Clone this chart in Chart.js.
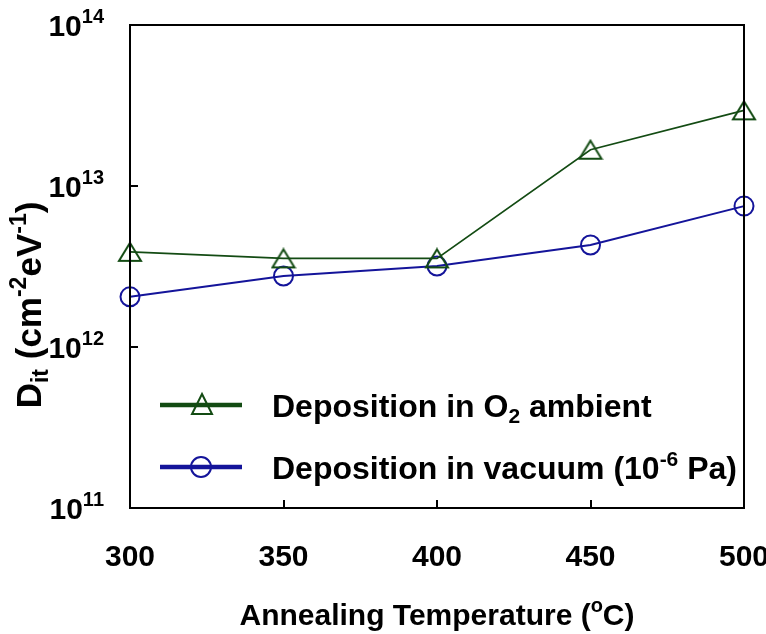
<!DOCTYPE html>
<html>
<head>
<meta charset="utf-8">
<script src="https://cdn.jsdelivr.net/npm/chart.js@4/dist/chart.umd.min.js"></script>
<style>
  body { margin: 0; background: #fff; }
  #wrap { width: 766px; height: 634px; }
</style>
</head>
<body>
<div id="wrap"><canvas id="ditChart"></canvas></div>
<script>
// data
const temps = [300, 350, 400, 450, 500];
const ditO2 = [3.9e12, 3.55e12, 3.55e12, 1.68e13, 2.95e13];
const ditVacuum = [2.05e12, 2.76e12, 3.18e12, 4.3e12, 7.5e12];
const xTicks = [300, 350, 400, 450, 500];
const yTicks = [1e11, 1e12, 1e13, 1e14];

const GREEN = '#134b13';
const BLUE = '#14149a';
const FONT = '"Liberation Sans", Arial, sans-serif';

// hollow triangle marker, centred on its bounding box
function triangleMarker(color) {
  const c = document.createElement('canvas');
  c.width = 26; c.height = 22;
  const g = c.getContext('2d');
  g.strokeStyle = color;
  g.lineWidth = 2;
  g.beginPath();
  g.moveTo(13, 2);
  g.lineTo(24, 20);
  g.lineTo(2, 20);
  g.closePath();
  g.stroke();
  return c;
}

// text with sub / superscript pieces: parts = [[text, ''|'sup'|'sub'], ...]
function richWidth(ctx, parts, size) {
  let w = 0;
  parts.forEach(([t, m]) => {
    ctx.font = 'bold ' + (m ? Math.round(size * 0.65) : size) + 'px ' + FONT;
    w += ctx.measureText(t).width;
  });
  return w;
}
function drawRich(ctx, parts, x, y, size, align) {
  const total = richWidth(ctx, parts, size);
  let cx = x;
  if (align === 'center') cx = x - total / 2;
  if (align === 'right') cx = x - total;
  ctx.textAlign = 'left';
  ctx.textBaseline = 'alphabetic';
  parts.forEach(([t, m]) => {
    const s = m ? Math.round(size * 0.65) : size;
    ctx.font = 'bold ' + s + 'px ' + FONT;
    let dy = 0;
    if (m === 'sup') dy = -size * 0.42;
    if (m === 'sub') dy = size * 0.2;
    ctx.fillText(t, cx, y + dy);
    cx += ctx.measureText(t).width;
  });
}

const legendItems = [
  { color: GREEN, marker: 'triangle', parts: [['Deposition in O', ''], ['2', 'sub'], [' ambient', '']] },
  { color: BLUE, marker: 'circle', parts: [['Deposition in vacuum (10', ''], ['-6', 'sup'], [' Pa)', '']] }
];

const decorPlugin = {
  id: 'decor',
  afterDraw(chart) {
    const ctx = chart.ctx;
    const a = chart.chartArea;
    const xs = chart.scales.x, ys = chart.scales.y;
    ctx.save();
    ctx.fillStyle = '#000';
    ctx.strokeStyle = '#000';

    // frame
    ctx.lineWidth = 2;
    ctx.strokeRect(a.left, a.top, a.right - a.left, a.bottom - a.top);

    // inward tick marks
    ctx.beginPath();
    xTicks.forEach(v => {
      const px = Math.round(xs.getPixelForValue(v));
      ctx.moveTo(px, a.bottom);
      ctx.lineTo(px, a.bottom - 8);
    });
    yTicks.forEach(v => {
      const py = Math.round(ys.getPixelForValue(v));
      ctx.moveTo(a.left, py);
      ctx.lineTo(a.left + 8, py);
    });
    ctx.stroke();

    // x tick labels
    xTicks.forEach(v => {
      drawRich(ctx, [[String(v), '']], xs.getPixelForValue(v), a.bottom + 58, 30, 'center');
    });
    // y tick labels
    yTicks.forEach(v => {
      const exp = Math.round(Math.log10(v));
      drawRich(ctx, [['10', ''], [String(exp), 'sup']], a.left - 26, ys.getPixelForValue(v) + 11, 30, 'right');
    });

    // axis titles
    drawRich(ctx, [['Annealing Temperature (', ''], ['o', 'sup'], ['C)', '']],
      (a.left + a.right) / 2, 625, 30, 'center');
    ctx.save();
    ctx.translate(41, 305);
    ctx.rotate(-Math.PI / 2);
    drawRich(ctx, [['D', ''], ['it', 'sub'], [' (cm', ''], ['-2', 'sup'], ['eV', ''], ['-1', 'sup'], [')', '']],
      0, 0, 35, 'center');
    ctx.restore();

    // legend
    legendItems.forEach((item, i) => {
      const ly = 405 + i * 62;
      ctx.strokeStyle = item.color;
      ctx.lineWidth = 4.5;
      ctx.beginPath();
      ctx.moveTo(160, ly);
      ctx.lineTo(242, ly);
      ctx.stroke();
      ctx.lineWidth = 2;
      ctx.beginPath();
      if (item.marker === 'triangle') {
        ctx.moveTo(202, ly - 11);
        ctx.lineTo(212, ly + 9);
        ctx.lineTo(192, ly + 9);
        ctx.closePath();
      } else {
        ctx.arc(201, ly, 10, 0, Math.PI * 2);
      }
      ctx.stroke();
      ctx.fillStyle = '#000';
      drawRich(ctx, item.parts, 272, ly + 12, 32, 'left');
    });
    ctx.restore();
  }
};

new Chart(document.getElementById('ditChart'), {
  type: 'line',
  data: {
    datasets: [
      {
        label: 'Deposition in O2 ambient',
        data: temps.map((t, i) => ({ x: t, y: ditO2[i] })),
        borderColor: GREEN,
        borderWidth: 1.6,
        pointStyle: triangleMarker(GREEN),
        pointRadius: 11,
        clip: false
      },
      {
        label: 'Deposition in vacuum (10-6 Pa)',
        data: temps.map((t, i) => ({ x: t, y: ditVacuum[i] })),
        borderColor: BLUE,
        borderWidth: 2,
        pointStyle: 'circle',
        pointRadius: 9.5,
        pointBorderWidth: 2,
        pointBackgroundColor: 'rgba(0,0,0,0)',
        pointBorderColor: BLUE,
        clip: false
      }
    ]
  },
  options: {
    responsive: true,
    maintainAspectRatio: false,
    animation: false,
    layout: { padding: { top: 25, right: 22, left: 0, bottom: 0 } },
    plugins: {
      legend: { display: false },
      tooltip: { enabled: false }
    },
    scales: {
      x: {
        type: 'linear',
        min: 300,
        max: 500,
        grid: { display: false },
        border: { display: false },
        ticks: { display: false },
        afterFit: s => { s.height = 126; }
      },
      y: {
        type: 'logarithmic',
        min: 1e11,
        max: 1e14,
        grid: { display: false },
        border: { display: false },
        ticks: { display: false },
        afterFit: s => { s.width = 130; }
      }
    }
  },
  plugins: [decorPlugin]
});
</script>
</body>
</html>
